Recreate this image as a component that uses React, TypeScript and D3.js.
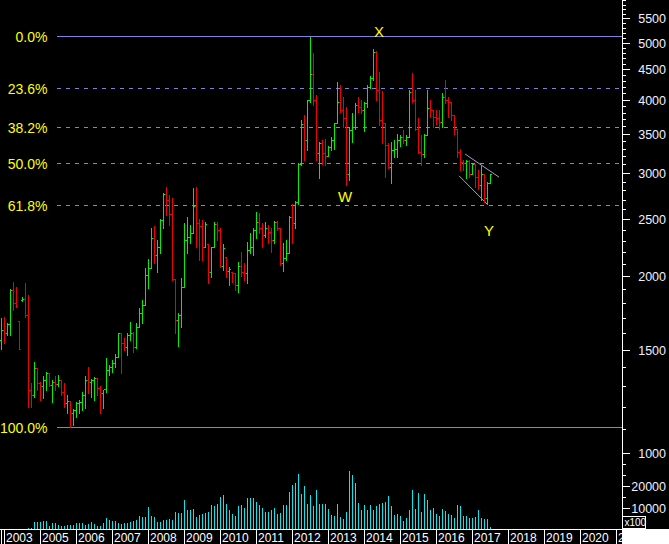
import * as d3 from "d3";

// monthly bars, first bar = Dec 2003
const opens = [1560,1620,1600,1660,1895,1799,1675,1820,1830,1718,1280,1255,1394,1314,1300,1331,1370,1306,1322,1310,1331,1270,1215,1225,1170,1184,1215,1223,1255,1331,1320,1330,1340,1290,1264,1283,1385,1403,1421,1460,1598,1537,1518,1588,1600,1518,1642,1730,1787,2010,2063,2320,2174,2246,2494,2765,2700,2550,1975,1685,1718,1920,2306,2336,2367,2635,2460,2440,2246,2270,2036,2240,2455,2398,2083,2160,2044,2036,2023,1933,2084,2036,2023,2217,2246,2398,2478,2420,2351,2420,2383,2306,2470,2420,2105,2150,2190,2526,2462,2680,3110,3640,3413,3990,4420,3992,3240,3370,3240,3200,3320,3413,3645,3960,3838,3715,2990,3549,3595,3914,3890,3838,3945,4205,4360,4810,4150,3690,3650,3346,3070,3281,3300,3413,3455,3413,3455,4125,3992,3570,3260,3230,3480,3865,3838,3740,3720,3665,4045,3992,3960,3764,3570,3260,3135,3120,3140,2990,3100,2955,2860,2990,2715,2880];
const highs = [1700,1707,1663,1900,1958,1920,1675,1845,1950,1858,1314,1430,1394,1322,1350,1376,1370,1331,1350,1358,1331,1314,1255,1225,1190,1223,1231,1272,1354,1403,1335,1345,1340,1298,1280,1450,1412,1440,1475,1600,1600,1568,1598,1673,1610,1663,1764,1822,2063,2138,2414,2433,2306,2500,2768,2836,2751,2715,1975,1730,1985,2462,2526,2445,2825,2836,2500,2494,2470,2270,2246,2470,2478,2420,2270,2160,2077,2036,2023,2117,2203,2105,2291,2367,2420,2576,2560,2462,2478,2445,2414,2486,2486,2420,2276,2306,2532,2655,2690,3120,3691,3764,4000,5120,4800,4071,3390,3413,3430,3330,3455,3650,4290,4234,4045,3890,3595,3790,3940,4045,3992,3960,4234,4390,4875,4830,4450,4133,3650,3370,3390,3413,3500,3480,3549,3480,4152,4440,4152,3715,3480,3500,4152,3992,3838,3838,3838,4100,4317,4045,3960,3764,3570,3300,3155,3155,3155,3110,3110,3034,3094,2990,2900,2990];
const lows = [1503,1537,1588,1590,1752,1770,1503,1815,1707,1200,1200,1247,1280,1231,1240,1280,1298,1223,1280,1298,1255,1200,1170,1107,1116,1153,1170,1184,1192,1264,1247,1231,1255,1170,1192,1270,1358,1376,1403,1460,1370,1498,1469,1558,1488,1510,1642,1663,1787,1908,2063,2105,2036,2188,2414,2543,2445,1971,1598,1521,1642,1920,2188,2276,2367,2246,2132,2132,2246,1946,1997,2240,2306,2077,2050,1997,1933,1958,1895,1883,2000,1971,1946,2188,2174,2320,2367,2246,2336,2276,2203,2283,2398,2090,2044,2130,2190,2276,2420,2660,3094,3155,3281,3960,3914,3155,2936,3110,3090,3200,3281,3300,3645,3810,3595,2860,2917,3390,3570,3810,3790,3530,3890,4180,4317,3990,3620,3370,2950,3060,2880,3195,3195,3330,3370,3346,3455,3960,3549,3240,3094,3195,3480,3740,3595,3640,3570,3595,3950,3740,3691,3500,3195,3034,3034,2935,2955,2990,2840,2820,2697,2680,2660,2880];
const closes = [1620,1600,1660,1895,1799,1780,1505,1830,1718,1280,1255,1394,1314,1300,1331,1370,1306,1322,1310,1331,1270,1215,1225,1170,1184,1215,1223,1255,1331,1320,1330,1340,1290,1264,1283,1385,1403,1421,1460,1598,1537,1518,1588,1600,1518,1642,1730,1787,2010,2063,2320,2174,2246,2494,2765,2700,2550,1975,1685,1718,1920,2306,2336,2367,2635,2460,2440,2246,2455,2036,2240,2455,2398,2083,2230,2044,2060,2023,1933,2084,2036,2023,2217,2246,2398,2478,2420,2351,2420,2383,2306,2470,2420,2105,2150,2190,2526,2462,2680,3110,3640,3413,3990,4420,3992,3240,3370,3240,3200,3320,3413,3645,3960,3838,3715,2990,3549,3595,3914,3890,3838,3945,4205,4360,4810,4150,3690,3650,3346,3070,3281,3300,3413,3455,3413,3455,4125,3992,3570,3260,3230,3480,3865,3838,3740,3720,3665,4045,3992,3960,3764,3570,3260,3135,3120,3140,2990,3100,2955,2860,2990,2715,2880,2985];
const volumes = [0,0,0,0,0,0,0,0,0,1000,1100,3500,3600,3800,4100,4000,2000,3000,3000,2300,2000,2000,2100,2400,2400,3000,3400,3000,2400,2700,3500,2900,2000,2000,3200,5300,4600,4000,4200,3400,2900,3000,3400,3600,4000,4600,6400,5800,6000,10600,6400,5900,3600,3500,4500,4500,5200,4500,8300,7800,7800,13600,9300,9100,9500,6000,7000,7400,7800,8300,11400,11100,11700,15150,15900,11800,9100,7270,6360,10900,11360,10000,14550,14550,14550,12730,11360,10000,8180,8180,9100,10000,7270,7730,11360,11360,17270,20450,21360,25450,16360,20000,11800,15900,10900,18180,11800,11800,11800,9550,6820,6360,11800,5900,5000,8180,26800,25000,21360,12270,9100,11360,9100,11360,9100,10900,11800,12270,12730,15450,10900,6820,7270,6360,4090,5450,9100,18180,9550,16800,8180,16360,13640,9100,10000,7270,6360,9550,8640,7270,6820,5450,11360,11060,6360,6360,5450,5450,5900,9100,5450,5000,5000,1360];

const yearLabels = ["2003","2005","2006","2007","2008","2009","2010","2011","2012","2013","2014","2015","2016","2017","2018","2019","2020","2021"];
const fibLevels = [0, 23.6, 38.2, 50, 61.8, 100];
const fibHigh = 5130;
const fibLow = 1107;
const priceLabels = [1000,1500,2000,2500,3000,3500,4000,4500,5000,5500];
const volumeLabels = [10000, 20000];
const waves = [
  { label: "X", k: 126, v: 5227 },
  { label: "W", k: 114.7, v: 2735 },
  { label: "Y", k: 162.7, v: 2390 },
];
const wedgeUpper = [{ k: 154.7, v: 3230 }, { k: 166, v: 2950 }];
const wedgeLower = [{ k: 152.7, v: 2965 }, { k: 162, v: 2655 }];

const W = 669;
const H = 544;
const AXIS_X = 622;
const BASE = 529;
const FONT = "'Liberation Sans', Arial, sans-serif";
const UP = "#00f000";
const DOWN = "#f00000";
const FIB = "#8282dc";

export default function App() {
  const x = d3.scaleLinear().domain([0, 1]).range([1, 4]);
  const y = d3.scaleLog().domain([1000, 5000]).range([453, 42.6]);
  const vy = d3.scaleLinear().domain([0, 10000]).range([530, 508]);

  const priceTicks = d3.range(1000, 6000, 100).filter((v) => y(v) >= 0 && y(v) <= 462);
  const volTicks = d3.range(5000, 35000, 5000).filter((v) => vy(v) >= 462);
  const line = d3
    .line<{ k: number; v: number }>()
    .x((d) => x(d.k))
    .y((d) => y(d.v));

  return (
    <svg
      width={W}
      height={H}
      style={{ position: "fixed", left: 0, top: 0, background: "#000" }}
      fontFamily={FONT}
    >
      <rect width={W} height={H} fill="#000" />

      {/* fibonacci retracement */}
      {fibLevels.map((p) => {
        const v = fibHigh - ((fibHigh - fibLow) * p) / 100;
        const yy = Math.round(y(v)) + 0.5;
        const solid = p === 0 || p === 100;
        return (
          <g key={p}>
            <line
              x1={57}
              x2={AXIS_X}
              y1={yy}
              y2={yy}
              stroke={FIB}
              strokeWidth={1}
              strokeDasharray={solid ? undefined : "4,5"}
            />
            <text x={47.5} y={yy + 1} dy="0.35em" textAnchor="end" fill="#ffff00" fontSize={14}>
              {p.toFixed(1)}%
            </text>
          </g>
        );
      })}

      {/* wedge */}
      <path d={line(wedgeUpper) ?? ""} stroke="#a0a0d8" fill="none" strokeWidth={1} />
      <path d={line(wedgeLower) ?? ""} stroke="#a0a0d8" fill="none" strokeWidth={1} />

      {/* OHLC bars */}
      {closes.map((c, k) => {
        const o = opens[k];
        const cx = Math.round(x(k));
        const yh = Math.round(y(highs[k]));
        const yl = Math.round(y(lows[k]));
        const col = c >= o ? UP : DOWN;
        return (
          <g key={k} fill={col}>
            <rect x={cx} y={yh} width={1} height={Math.max(1, yl - yh + 1)} />
            <rect x={cx - 1} y={Math.round(y(o))} width={1} height={1} />
            <rect x={cx + 1} y={Math.round(y(c))} width={1} height={1} />
          </g>
        );
      })}

      {/* wave labels */}
      {waves.map((w) => (
        <text
          key={w.label}
          x={x(w.k)}
          y={y(w.v)}
          dy="0.35em"
          textAnchor="middle"
          fill="#ffff00"
          fontSize={15}
        >
          {w.label}
        </text>
      ))}

      {/* volume */}
      {volumes.map((v, k) =>
        v > 0 ? (
          <rect
            key={k}
            x={Math.round(x(k))}
            y={Math.round(vy(v))}
            width={1}
            height={BASE - Math.round(vy(v))}
            fill="#00e8f0"
          />
        ) : null
      )}

      {/* right axis */}
      <rect x={AXIS_X} y={0} width={1} height={BASE} fill="#fff" />
      {priceTicks.map((v) => {
        const major = v % 500 === 0;
        const yy = Math.round(y(v));
        return (
          <g key={v}>
            <rect x={AXIS_X} y={yy} width={major ? 8 : 4} height={1} fill="#fff" />
            {priceLabels.includes(v) && (
              <text x={666} y={yy} dy="0.36em" textAnchor="end" fill="#eef0ff" fontSize={12.5}>
                {v}
              </text>
            )}
          </g>
        );
      })}
      {volTicks.map((v) => {
        const major = volumeLabels.includes(v);
        const yy = Math.round(vy(v));
        return (
          <g key={v}>
            <rect x={AXIS_X} y={yy} width={major ? 8 : 4} height={1} fill="#fff" />
            {major && (
              <text x={666} y={yy} dy="0.36em" textAnchor="end" fill="#eef0ff" fontSize={12.5}>
                {v}
              </text>
            )}
          </g>
        );
      })}

      {/* time axis */}
      <rect x={0} y={BASE} width={AXIS_X} height={1} fill="#fff" />
      <rect x={1} y={BASE} width={1} height={H - BASE} fill="#fff" />
      {yearLabels.map((t, i) => {
        const bx = Math.round(x(1 + 12 * i));
        return (
          <g key={t}>
            <rect x={bx} y={BASE} width={1} height={H - BASE} fill="#fff" />
            <text x={bx + 2} y={541.5} fill="#fff" fontSize={12}>
              {t}
            </text>
          </g>
        );
      })}
      <rect x={AXIS_X} y={BASE} width={W - AXIS_X} height={H - BASE} fill="#fff" />
      <rect x={622.5} y={516.5} width={23} height={12} fill="#000" stroke="#fff" />
      <text x={624.5} y={526} fill="#fff" fontSize={10}>
        x100
      </text>
    </svg>
  );
}
